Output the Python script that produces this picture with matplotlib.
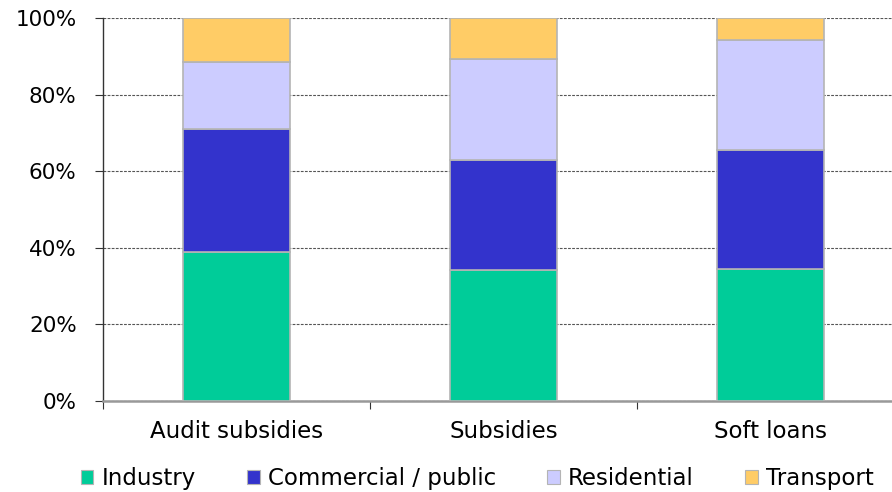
import matplotlib
matplotlib.use("Agg")
import matplotlib.pyplot as plt
from matplotlib.patches import Patch
from matplotlib.ticker import FuncFormatter

plt.rcParams['font.family'] = ['DejaVu Sans']

categories = ["Audit subsidies", "Subsidies", "Soft loans"]
sectors = ["Industry", "Commercial / public", "Residential", "Transport"]
industry = [38.9, 34.2, 34.4]
commercial = [32.1, 28.6, 31.2]
residential = [17.5, 26.5, 28.7]
transport = [11.5, 10.7, 5.7]
colors = ["#00CC99", "#3333CC", "#CCCCFF", "#FFCC66"]

fig = plt.figure(figsize=(8.92, 4.92), dpi=100)
ax = fig.add_axes([0.1155, 0.185, 0.898, 0.7785])

x = list(range(len(categories)))
bottom = [0.0] * len(categories)
for vals, col in zip([industry, commercial, residential, transport], colors):
    ax.bar(x, vals, width=0.40, bottom=bottom, color=col, edgecolor="#b4b4b4",
           linewidth=1.2, zorder=3)
    bottom = [b + v for b, v in zip(bottom, vals)]

ax.set_xlim(-0.5, 2.5)
ax.set_ylim(0, 100)
ax.set_yticks([0, 20, 40, 60, 80, 100])
ax.yaxis.set_major_formatter(FuncFormatter(lambda v, p: f"{v:.0f}%"))
ax.grid(axis="y", linestyle=(0, (2.5, 1.2)), color="#555555", linewidth=0.8, zorder=0)

ax.set_xticks([-0.5, 0.5, 1.5, 2.5])
ax.set_xticklabels([])
ax.set_xticks(x, minor=True)
ax.set_xticklabels(categories, minor=True)
ax.tick_params(axis="x", which="minor", length=0, pad=14, labelsize=16.5)
ax.tick_params(axis="x", which="major", length=6, width=0.8, color="#333333")
ax.tick_params(axis="y", length=6, width=0.8, pad=13, labelsize=15.5, color="#333333")

for s in ["top", "right"]:
    ax.spines[s].set_visible(False)
ax.spines["left"].set_color("#333333")
ax.spines["left"].set_linewidth(1.0)
ax.spines["bottom"].set_color("#999999")
ax.spines["bottom"].set_linewidth(1.8)

handles = [Patch(facecolor=c, edgecolor="#b4b4b4", linewidth=0.8) for c in colors]
fig.legend(handles, sectors, loc="center", bbox_to_anchor=(0.535, 0.028),
           ncol=4, frameon=False, fontsize=16.5, handlelength=0.55,
           handleheight=0.55, handletextpad=0.35, columnspacing=2.25)

fig.savefig("out.png", dpi=100)
